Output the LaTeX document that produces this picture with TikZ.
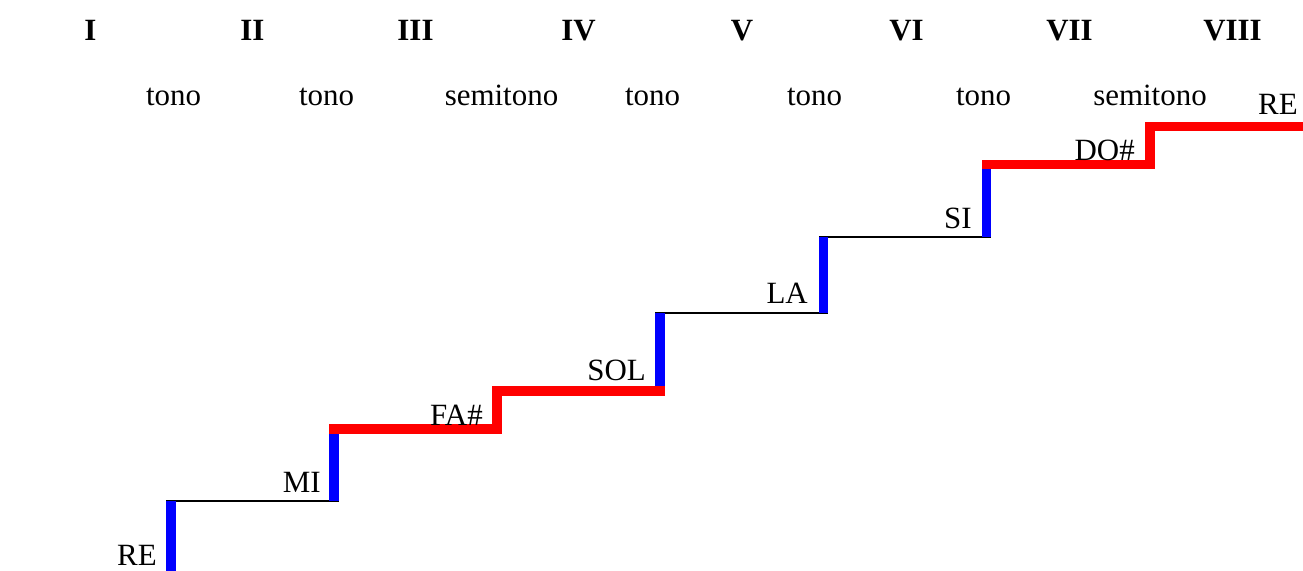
\documentclass[tikz,border=0pt]{standalone}
\usepackage{fontspec}
\setmainfont{Liberation Serif}
\definecolor{stepblue}{RGB}{0,0,255}
\definecolor{stepred}{RGB}{255,0,0}
\begin{document}
\begin{tikzpicture}[x=0.75pt,y=-0.75pt,
  txt/.style={inner sep=0pt,font=\fontsize{23.2}{27}\selectfont},
  degree/.style={txt,anchor=base,font=\fontsize{23.2}{27}\selectfont\bfseries},
  interval/.style={txt,anchor=base},
  note/.style={txt,anchor=base east},
  tread/.style={draw=black,line width=1.6pt},
  riser/.style={draw=stepblue,line width=6.8pt},
  semi/.style={draw=stepred,line width=6.8pt,line cap=rect,line join=miter}]
\useasboundingbox (0,0) rectangle (1303,571);
% corners of the staircase
\coordinate (x0) at (171,571);
\coordinate (a1) at (171,501);  \coordinate (b1) at (334,501);
\coordinate (a2) at (334,429);  \coordinate (b2) at (497,429);
\coordinate (a3) at (497,391);  \coordinate (b3) at (660,391);
\coordinate (a4) at (660,313);  \coordinate (b4) at (823.5,313);
\coordinate (a5) at (823.5,237);\coordinate (b5) at (986.5,237);
\coordinate (a6) at (986.5,164.5); \coordinate (b6) at (1150,164.5);
\coordinate (a7) at (1150,126.5);  \coordinate (b7) at (1303,126.5);
% black treads
\draw[tread] ([xshift=-3.4pt]a1) -- ([xshift=3.4pt]b1);
\draw[tread] ([xshift=-3.4pt]a4) -- ([xshift=3.4pt]b4);
\draw[tread] ([xshift=-3.4pt]a5) -- ([xshift=3.4pt]b5);
% blue risers
\draw[riser] (x0) -- (a1);
\draw[riser] (b1) -- (a2);
\draw[riser] (b3) -- (a4);
\draw[riser] (b4) -- (a5);
\draw[riser] (b5) -- (a6);
% red semitone steps
\draw[semi] (a2) -- (b2) -- (a3) -- (b3);
\draw[semi] (a6) -- (b6) -- (a7) -- (b7);
% degrees
\node[degree] (d1) at (90.5,40) {I};
\node[degree] (d2) at (252.5,40) {II};
\node[degree] (d3) at (415.5,40) {III};
\node[degree] (d4) at (578.5,40) {IV};
\node[degree] (d5) at (742,40) {V};
\node[degree] (d6) at (906.5,40) {VI};
\node[degree] (d7) at (1069.5,40) {VII};
\node[degree] (d8) at (1232.5,40) {VIII};
% intervals
\node[interval] (i1) at (173.5,105) {tono};
\node[interval] (i2) at (326.5,105) {tono};
\node[interval] (i3) at (501.5,105) {semitono};
\node[interval] (i4) at (652.5,105) {tono};
\node[interval] (i5) at (814.5,105) {tono};
\node[interval] (i6) at (983.5,105) {tono};
\node[interval] (i7) at (1150,105) {semitono};
% notes
\node[note,text depth=0pt] (n1) at (157,565) {RE};
\node[note] (n2) at (321,492.5) {MI};
\node[note] (n3) at (483,425) {FA\#};
\node[note] (n4) at (646,380) {SOL};
\node[note] (n5) at (808,303) {LA};
\node[note] (n6) at (972,228) {SI};
\node[note] (n7) at (1135,160) {DO\#};
\node[note] (n8) at (1298,114) {RE};
\end{tikzpicture}
\end{document}
